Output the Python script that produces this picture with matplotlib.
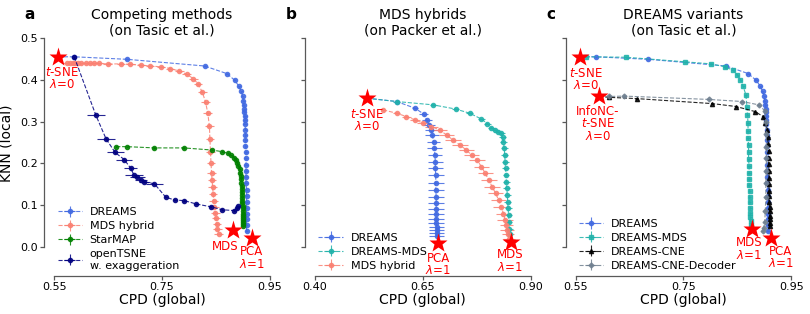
import matplotlib
matplotlib.use("Agg")
import matplotlib.pyplot as plt

# ---- panel a: competing methods (Tasic) ----
dreams_tasic_cpd = [0.557, 0.587, 0.685, 0.829, 0.870, 0.885, 0.893, 0.897, 0.900, 0.901,
                    0.902, 0.903, 0.903, 0.904, 0.904, 0.904, 0.905, 0.905, 0.905, 0.905,
                    0.906, 0.906, 0.906, 0.906, 0.906, 0.906, 0.907, 0.907, 0.907, 0.907,
                    0.907, 0.907, 0.907, 0.907]
dreams_tasic_knn = [0.455, 0.455, 0.449, 0.433, 0.415, 0.399, 0.384, 0.372, 0.360, 0.350,
                    0.340, 0.331, 0.322, 0.313, 0.303, 0.293, 0.281, 0.268, 0.255, 0.241,
                    0.227, 0.212, 0.197, 0.182, 0.167, 0.152, 0.137, 0.122, 0.107, 0.093,
                    0.080, 0.066, 0.052, 0.038]

mdsh_tasic_cpd = [0.574, 0.579, 0.584, 0.589, 0.594, 0.600, 0.608, 0.616, 0.624, 0.633,
                  0.649, 0.674, 0.691, 0.711, 0.728, 0.748, 0.765, 0.782, 0.796, 0.808,
                  0.817, 0.825, 0.831, 0.835, 0.838, 0.839, 0.840, 0.841, 0.842, 0.843,
                  0.844, 0.845, 0.846, 0.847, 0.849, 0.850, 0.852, 0.853, 0.855]
mdsh_tasic_knn = [0.439, 0.439, 0.439, 0.439, 0.439, 0.439, 0.439, 0.439, 0.439, 0.439,
                  0.438, 0.438, 0.437, 0.435, 0.433, 0.431, 0.427, 0.421, 0.413, 0.403,
                  0.390, 0.370, 0.346, 0.320, 0.289, 0.258, 0.228, 0.200, 0.178, 0.160,
                  0.143, 0.127, 0.111, 0.096, 0.082, 0.069, 0.056, 0.044, 0.032]

starmap_cpd = [0.665, 0.685, 0.736, 0.790, 0.842, 0.862, 0.872, 0.879, 0.884, 0.887,
               0.890, 0.892, 0.894, 0.895, 0.896, 0.897, 0.897, 0.898, 0.898, 0.898,
               0.899, 0.899, 0.899, 0.899, 0.900, 0.900, 0.900, 0.900, 0.900, 0.900,
               0.900, 0.900, 0.900, 0.900]
starmap_knn = [0.240, 0.240, 0.237, 0.237, 0.232, 0.228, 0.224, 0.219, 0.214, 0.208,
               0.201, 0.194, 0.186, 0.178, 0.170, 0.162, 0.154, 0.146, 0.138, 0.131,
               0.124, 0.117, 0.110, 0.104, 0.098, 0.092, 0.086, 0.080, 0.075, 0.070,
               0.065, 0.060, 0.055, 0.050]

otsne_cpd = [0.587, 0.627, 0.646, 0.663, 0.680, 0.692, 0.698, 0.704, 0.711, 0.717,
             0.736, 0.757, 0.774, 0.791, 0.813, 0.841, 0.862, 0.884, 0.889, 0.891]
otsne_knn = [0.455, 0.316, 0.259, 0.226, 0.209, 0.188, 0.172, 0.167, 0.160, 0.156,
             0.151, 0.119, 0.112, 0.111, 0.103, 0.096, 0.089, 0.087, 0.092, 0.098]
otsne_xerr = [0.003, 0.017, 0.016, 0.016, 0.015, 0.012, 0.016, 0.014, 0.012, 0.010,
              0.016, 0.004, 0.004, 0.003, 0.003, 0.003, 0.003, 0.003, 0.004, 0.004]

# ---- panel b: MDS hybrids (Packer) ----
dreams_packer_cpd = [0.520, 0.589, 0.632, 0.652, 0.659, 0.665, 0.670, 0.672, 0.675, 0.677,
                     0.678, 0.679, 0.679, 0.680, 0.680, 0.680, 0.681, 0.681, 0.681, 0.681,
                     0.681, 0.681, 0.682, 0.682, 0.682, 0.682]
dreams_packer_knn = [0.356, 0.348, 0.332, 0.318, 0.304, 0.292, 0.280, 0.268, 0.252, 0.236,
                     0.220, 0.204, 0.188, 0.171, 0.154, 0.137, 0.120, 0.104, 0.090, 0.078,
                     0.067, 0.057, 0.048, 0.040, 0.033, 0.027]
dreams_packer_xerr = [0.002, 0.004, 0.006, 0.010, 0.012, 0.014, 0.015, 0.016, 0.016, 0.017,
                      0.017, 0.017, 0.018, 0.018, 0.018, 0.018, 0.018, 0.018, 0.018, 0.018,
                      0.018, 0.018, 0.018, 0.018, 0.018, 0.018]

dmds_packer_cpd = [0.520, 0.589, 0.674, 0.726, 0.759, 0.786, 0.800, 0.809, 0.818, 0.824,
                   0.832, 0.835, 0.837, 0.839, 0.840, 0.841, 0.842, 0.843, 0.844, 0.845,
                   0.846, 0.847, 0.848, 0.849, 0.850, 0.851, 0.852]
dmds_packer_knn = [0.356, 0.348, 0.340, 0.330, 0.320, 0.306, 0.295, 0.285, 0.280, 0.276,
                   0.272, 0.262, 0.252, 0.236, 0.220, 0.204, 0.188, 0.172, 0.156, 0.140,
                   0.124, 0.108, 0.092, 0.076, 0.060, 0.044, 0.030]

mdsh_packer_cpd = [0.558, 0.589, 0.612, 0.632, 0.651, 0.670, 0.689, 0.705, 0.720, 0.736,
                   0.751, 0.763, 0.776, 0.786, 0.795, 0.803, 0.811, 0.819, 0.826, 0.832,
                   0.837, 0.841, 0.844, 0.846, 0.848, 0.849]
mdsh_packer_knn = [0.328, 0.320, 0.312, 0.304, 0.296, 0.288, 0.280, 0.268, 0.256, 0.244,
                   0.232, 0.220, 0.208, 0.192, 0.176, 0.160, 0.144, 0.128, 0.112, 0.096,
                   0.080, 0.065, 0.052, 0.040, 0.030, 0.020]
mdsh_packer_xerr = [0.004, 0.008, 0.010, 0.012, 0.014, 0.016, 0.018, 0.018, 0.018, 0.018,
                    0.018, 0.018, 0.018, 0.018, 0.018, 0.018, 0.018, 0.018, 0.018, 0.018,
                    0.018, 0.018, 0.016, 0.016, 0.014, 0.014]

# ---- panel c: DREAMS variants (Tasic) ----
dmds_tasic_cpd = [0.558, 0.570, 0.643, 0.753, 0.802, 0.827, 0.842, 0.850, 0.856, 0.861,
                  0.866, 0.868, 0.869, 0.870, 0.870, 0.870, 0.871, 0.871, 0.871, 0.872,
                  0.872, 0.872, 0.872, 0.873, 0.873, 0.873, 0.874, 0.874, 0.874, 0.875,
                  0.875]
dmds_tasic_knn = [0.455, 0.455, 0.454, 0.443, 0.438, 0.431, 0.423, 0.412, 0.400, 0.384,
                  0.364, 0.336, 0.315, 0.296, 0.278, 0.260, 0.243, 0.226, 0.210, 0.194,
                  0.178, 0.163, 0.148, 0.134, 0.120, 0.107, 0.094, 0.082, 0.071, 0.061,
                  0.052]

cne_cpd = [0.594, 0.612, 0.663, 0.804, 0.848, 0.883, 0.898, 0.902, 0.906, 0.907,
           0.907, 0.908, 0.908, 0.908, 0.909, 0.909, 0.909, 0.909, 0.909, 0.909,
           0.910, 0.910, 0.910, 0.910, 0.910, 0.910]
cne_knn = [0.360, 0.358, 0.355, 0.343, 0.336, 0.324, 0.312, 0.296, 0.280, 0.262,
           0.246, 0.230, 0.214, 0.198, 0.182, 0.166, 0.150, 0.135, 0.121, 0.108,
           0.096, 0.085, 0.075, 0.066, 0.058, 0.050]

dec_cpd = [0.594, 0.612, 0.640, 0.797, 0.859, 0.890, 0.901, 0.903, 0.904, 0.904,
           0.904, 0.904, 0.903, 0.903, 0.902, 0.901, 0.899, 0.897]
dec_knn = [0.360, 0.360, 0.361, 0.353, 0.348, 0.340, 0.326, 0.300, 0.270, 0.240,
           0.212, 0.182, 0.152, 0.120, 0.085, 0.060, 0.045, 0.038]

# reference embeddings (stars): (cpd, knn, label, text offset)
stars_a = [(0.557, 0.454, "$t$-SNE\n$\\lambda$=0", (3, -6)),
           (0.881, 0.041, "MDS", (-5, -7)),
           (0.917, 0.021, "PCA\n$\\lambda$=1", (0, -5))]
stars_b = [(0.520, 0.356, "$t$-SNE\n$\\lambda$=0", (0, -7)),
           (0.686, 0.009, "PCA\n$\\lambda$=1", (0, -6)),
           (0.855, 0.013, "MDS\n$\\lambda$=1", (-1, -5))]
stars_c = [(0.558, 0.455, "$t$-SNE\n$\\lambda$=0", (4, -7)),
           (0.594, 0.360, "InfoNC-\n$t$-SNE\n$\\lambda$=0", (-1, -6)),
           (0.877, 0.042, "MDS\n$\\lambda$=1", (-2, -5)),
           (0.912, 0.022, "PCA\n$\\lambda$=1", (7, -5))]

knn_ticks = [0.0, 0.1, 0.2, 0.3, 0.4, 0.5]


def series(ax, x, y, color, label, marker='o', xerr=0.003, yerr=0.002, ms=3):
    ax.errorbar(x, y, xerr=xerr, yerr=yerr, fmt=marker + '--', color=color, ms=ms,
                lw=0.8, elinewidth=0.8, capsize=0, alpha=0.85, label=label)


def stars(ax, pts):
    for x, y, txt, off in pts:
        ax.plot(x, y, '*', color='red', ms=14, mec='none', zorder=10, clip_on=False)
        ax.annotate(txt, (x, y), xytext=off, textcoords='offset points', ha='center',
                    va='top', color='red', fontsize=8.5, linespacing=0.95, zorder=11)


def style(ax, xticks, title, letter, ylabels=False):
    ax.set_xlim(xticks[0], xticks[-1])
    ax.set_ylim(-0.0455, 0.5)
    for s in ['top', 'right']:
        ax.spines[s].set_visible(False)
    for s in ['left', 'bottom']:
        ax.spines[s].set_position(('outward', 7.2))
        ax.spines[s].set_color('0.35')
        ax.spines[s].set_linewidth(0.9)
    ax.spines['left'].set_bounds(0, 0.5)
    ax.spines['bottom'].set_bounds(xticks[0], xticks[-1])
    ax.set_xticks(xticks)
    ax.set_xticklabels([f"{t:.2f}" for t in xticks])
    ax.set_yticks(knn_ticks)
    if ylabels:
        ax.set_yticklabels([f"{t:.1f}" for t in knn_ticks])
        ax.set_ylabel("KNN (local)", fontsize=10)
        ax.yaxis.set_label_coords(-0.19, 0.54)
    else:
        ax.set_yticklabels([])
    ax.tick_params(length=3, width=0.9, pad=1.5, labelsize=8, color='0.35')
    ax.set_xlabel("CPD (global)", fontsize=10)
    ax.xaxis.set_label_coords(0.5, -0.12)
    ax.set_title(title, fontsize=10, pad=2)
    ax.legend(loc='lower left', bbox_to_anchor=(0.015, -0.02), frameon=False, fontsize=8,
              borderpad=0, borderaxespad=0, handlelength=2.2, handletextpad=0.7,
              labelspacing=0.35)
    pos = ax.get_position()
    ax.figure.text(pos.x0 - 0.03, 0.955, letter, fontsize=11, weight='bold',
                   ha='center', va='center')


fig = plt.figure(figsize=(8.1, 3.14), dpi=100)
w, h, b = 0.266, 0.726, 0.153
ax_a = fig.add_axes([0.067, b, w, h])
ax_b = fig.add_axes([0.389, b, w, h])
ax_c = fig.add_axes([0.7107, b, w, h])

series(ax_a, dreams_tasic_cpd, dreams_tasic_knn, 'royalblue', 'DREAMS')
series(ax_a, mdsh_tasic_cpd, mdsh_tasic_knn, 'salmon', 'MDS hybrid', xerr=0.008)
series(ax_a, starmap_cpd, starmap_knn, 'green', 'StarMAP', xerr=0.002)
series(ax_a, otsne_cpd, otsne_knn, 'navy', 'openTSNE\nw. exaggeration', xerr=otsne_xerr,
       yerr=0.003)
stars(ax_a, stars_a)
style(ax_a, [0.55, 0.75, 0.95], "Competing methods\n(on Tasic et al.)", 'a', ylabels=True)

series(ax_b, dreams_packer_cpd, dreams_packer_knn, 'royalblue', 'DREAMS', xerr=dreams_packer_xerr)
series(ax_b, dmds_packer_cpd, dmds_packer_knn, 'lightseagreen', 'DREAMS-MDS', xerr=0.008)
series(ax_b, mdsh_packer_cpd, mdsh_packer_knn, 'salmon', 'MDS hybrid', xerr=mdsh_packer_xerr)
stars(ax_b, stars_b)
style(ax_b, [0.40, 0.65, 0.90], "MDS hybrids\n(on Packer et al.)", 'b')

series(ax_c, dreams_tasic_cpd, dreams_tasic_knn, 'royalblue', 'DREAMS')
series(ax_c, dmds_tasic_cpd, dmds_tasic_knn, 'lightseagreen', 'DREAMS-MDS', marker='s', ms=2.8)
series(ax_c, cne_cpd, cne_knn, 'black', 'DREAMS-CNE', marker='^', ms=3)
series(ax_c, dec_cpd, dec_knn, 'slategray', 'DREAMS-CNE-Decoder', marker='D', ms=2.5)
stars(ax_c, stars_c)
style(ax_c, [0.55, 0.75, 0.95], "DREAMS variants\n(on Tasic et al.)", 'c')

fig.savefig("out.png", dpi=100)
